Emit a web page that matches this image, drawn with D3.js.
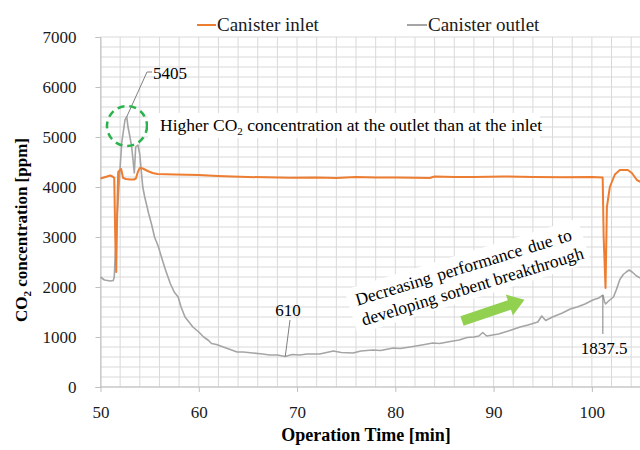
<!DOCTYPE html>
<html><head><meta charset="utf-8">
<script src="https://cdn.jsdelivr.net/npm/d3@7"></script>
<style>body{margin:0;background:#fff}svg{display:block}text{font-family:"Liberation Serif",serif}</style>
</head><body>
<svg id="c" width="640" height="450"></svg>
<script>
const seriesNames = ["Canister inlet", "Canister outlet"];
const seriesColors = ["#ED7D31", "#A5A5A5"];
const xTicks = [50, 60, 70, 80, 90, 100];
const yTicks = [0, 1000, 2000, 3000, 4000, 5000, 6000, 7000];

const inletT = [50,50.5,51,51.3,51.4,51.5,51.6,51.7,51.8,52.0,52.1,52.3,52.6,53.0,53.4,53.6,53.8,54.0,54.3,54.8,55.3,55.8,57.6,60,61.9,65,69.3,72,74,76,78,80,82,83.5,84,86,88,91,94,97,100,101.1,101.2,101.39,101.53,101.83,102.34,102.85,103.66,104.07,104.58,105];
const inletV = [4170,4200,4230,4200,4180,3000,2300,3500,4300,4340,4360,4180,4160,4150,4150,4170,4300,4380,4370,4320,4280,4260,4250,4240,4220,4200,4186,4190,4180,4200,4190,4190,4185,4180,4210,4200,4200,4210,4200,4195,4200,4190,3000,1980,3600,4000,4250,4340,4340,4280,4140,4100];

const outletT = [50,50.4,51,51.3,51.4,51.65,51.98,52.16,52.49,52.67,52.8,53.0,53.17,53.28,53.44,53.58,53.81,54.0,54.3,54.5,54.9,55.2,55.5,55.9,56.2,56.6,57.1,57.5,57.9,58.2,58.6,59.0,59.4,60.0,60.5,61.0,61.3,61.8,62.5,63.2,63.9,64.5,65.5,66.5,67.2,68.0,68.8,69.5,70.3,71,72.3,73,73.7,74.5,75.7,76.5,77.7,78.5,79.8,80.5,81.8,83,83.8,84.5,85.6,86.5,87.3,88,88.5,88.9,89.3,90.5,91.5,92.7,93.5,94.5,94.9,95.3,96,97,97.8,98.5,99.3,100.1,100.7,101.12,101.3,101.4,101.7,102.2,102.5,102.85,103.2,103.5,103.8,104.1,104.55,105];
const outletV = [2200,2140,2120,2130,2200,3280,4340,4880,5340,5405,5200,5000,4800,4600,4280,4800,4840,4650,4000,3800,3470,3250,3000,2800,2600,2350,2070,1900,1800,1600,1400,1300,1200,1100,1000,930,870,850,800,750,700,700,680,660,640,640,610,650,640,660,660,690,720,690,680,720,740,730,780,770,810,850,880,870,910,940,990,1000,1020,1090,1020,1060,1120,1200,1240,1300,1420,1330,1400,1480,1560,1600,1660,1740,1780,1837.5,1700,1660,1720,1800,1950,2150,2250,2300,2340,2300,2220,2170];

const svg = d3.select("#c");
const x = d3.scaleLinear().domain([50, 105]).range([100.5, 641]);
const y = d3.scaleLinear().domain([0, 7000]).range([387, 37]);

// grid
const g = svg.append("g");
g.selectAll(".vg").data(d3.range(50, 105.1, 2)).join("line")
  .attr("x1", d => x(d)).attr("x2", d => x(d)).attr("y1", y(0)).attr("y2", y(7000))
  .attr("stroke", "#d9d9d9").attr("stroke-width", 1);
g.selectAll(".hg").data(d3.range(0, 7001, 200)).join("line")
  .attr("x1", x(50)).attr("x2", 640).attr("y1", d => y(d)).attr("y2", d => y(d))
  .attr("stroke", "#d9d9d9").attr("stroke-width", 1);

// axes
const xa = svg.append("g").attr("transform", `translate(0,${y(0)})`)
  .call(d3.axisBottom(x).tickValues(xTicks).tickSize(5).tickPadding(14).tickFormat(d3.format("d")));
const ya = svg.append("g").attr("transform", `translate(${x(50)},0)`)
  .call(d3.axisLeft(y).tickValues(yTicks).tickSize(5).tickPadding(19).tickFormat(d3.format("d")));
[xa, ya].forEach(a => {
  a.select(".domain").attr("stroke", "#bfbfbf");
  a.selectAll(".tick line").attr("stroke", "#bfbfbf");
  a.selectAll(".tick text").attr("font-family", "Liberation Serif").attr("font-size", 17).attr("fill", "#1a1a1a");
});
xa.select(".domain").attr("d", `M${x(50)},0H640`);

// lines
const line = d3.line().x(d => x(d[0])).y(d => y(d[1]));
const inlet = inletT.map((t, i) => [t, inletV[i]]);
const outlet = outletT.map((t, i) => [t, outletV[i]]);
svg.append("path").datum(outlet).attr("d", line).attr("fill", "none")
  .attr("stroke", seriesColors[1]).attr("stroke-width", 1.6).attr("stroke-linejoin", "round");
svg.append("path").datum(inlet).attr("d", line).attr("fill", "none")
  .attr("stroke", seriesColors[0]).attr("stroke-width", 2).attr("stroke-linejoin", "round");

// legend
const leg = [[197, 217], [407, 428]];
seriesNames.forEach((n, i) => {
  svg.append("line").attr("x1", leg[i][0]).attr("x2", leg[i][1] - 1).attr("y1", 25).attr("y2", 25)
    .attr("stroke", seriesColors[i]).attr("stroke-width", 2);
  svg.append("text").attr("x", leg[i][1]).attr("y", 31).attr("font-size", 19).attr("fill", "#1a1a1a").text(n);
});

// axis titles
svg.append("text").attr("x", 366).attr("y", 441).attr("text-anchor", "middle")
  .attr("font-size", 18).attr("font-weight", "bold").attr("fill", "#000").text("Operation Time [min]");
const yt = svg.append("text").attr("transform", "translate(27,230) rotate(-90)").attr("text-anchor", "middle")
  .attr("font-size", 17).attr("font-weight", "bold").attr("fill", "#000");
yt.append("tspan").text("CO");
yt.append("tspan").attr("font-size", 11).attr("dy", 4).text("2");
yt.append("tspan").attr("dy", -4).text(" concentration [ppm]");

// annotation: peak
const pk = [52.67, 5405];
svg.append("polyline").attr("points", `${x(pk[0])},${y(pk[1])} 147,72 152,72`)
  .attr("fill", "none").attr("stroke", "#7f7f7f").attr("stroke-width", 1);
svg.append("text").attr("x", 153).attr("y", 79).attr("font-size", 17).attr("fill", "#000").text("5405");

// circle
svg.append("circle").attr("cx", 127).attr("cy", 126).attr("r", 20).attr("fill", "none")
  .attr("stroke", "#2bb24c").attr("stroke-width", 2.5).attr("stroke-dasharray", "7,5");

// higher CO2 label
svg.append("rect").attr("x", 148).attr("y", 113).attr("width", 392).attr("height", 25).attr("fill", "#fff");
const ht = svg.append("text").attr("x", 160).attr("y", 131).attr("font-size", 17.5).attr("fill", "#000");
ht.append("tspan").text("Higher CO");
ht.append("tspan").attr("font-size", 11).attr("dy", 4).text("2");
ht.append("tspan").attr("dy", -4).text(" concentration at the outlet than at the inlet");

// min label
const mn = [68.8, 610];
svg.append("line").attr("x1", 290).attr("y1", 320).attr("x2", x(mn[0])).attr("y2", y(mn[1]))
  .attr("stroke", "#7f7f7f").attr("stroke-width", 1);
svg.append("text").attr("x", 288).attr("y", 316).attr("text-anchor", "middle").attr("font-size", 17).text("610");

// end label
const en = [101.12, 1837.5];
svg.append("line").attr("x1", x(en[0])).attr("y1", y(en[1])).attr("x2", x(en[0])).attr("y2", 334)
  .attr("stroke", "#7f7f7f").attr("stroke-width", 1);
svg.append("text").attr("x", 604).attr("y", 354).attr("text-anchor", "middle").attr("font-size", 17).text("1837.5");

// rotated annotation
const rg = svg.append("g").attr("transform", "translate(356,301) rotate(-17)");
rg.append("rect").attr("x", -8).attr("y", -14).attr("width", 244).attr("height", 46).attr("fill", "#fff");
rg.append("text").attr("x", 0).attr("y", 5).attr("font-size", 17.5).attr("word-spacing", 2).text("Decreasing performance due to");
rg.append("text").attr("x", 0).attr("y", 26).attr("font-size", 17.5).text("developing sorbent breakthrough");

// green arrow
const ag = svg.append("g").attr("transform", "translate(462,321) rotate(-18.7)");
ag.append("polygon").attr("points", "0,-5 50,-5 50,-11 66,0 50,11 50,5 0,5").attr("fill", "#92D050");
</script>
</body></html>
